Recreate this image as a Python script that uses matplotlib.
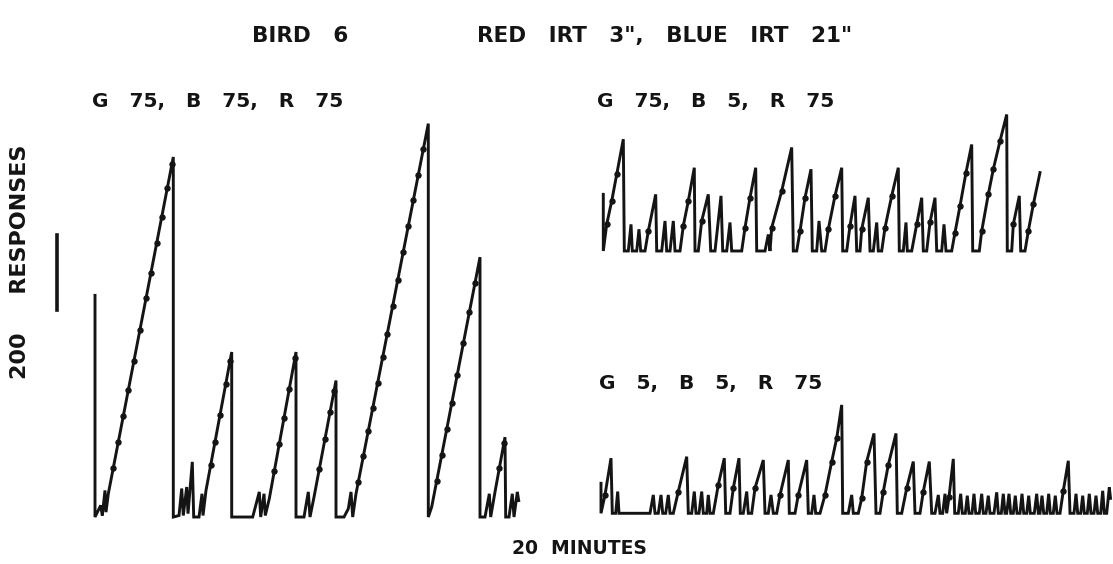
import numpy as np
import matplotlib
matplotlib.use("Agg")
import matplotlib.pyplot as plt

# cumulative records: (minutes, cumulative responses), pen resets drawn as drops
left_record = [(0, 591), (0, 0), (0.57, 31), (0.73, 4), (1.0, 71), (1.1, 13), (1.33, 62),
               (7.83, 960), (7.83, 0), (8.4, 4), (8.67, 76), (8.83, 4), (9.17, 80), (9.3, 9),
               (9.73, 147), (9.87, 0), (10.4, 0), (10.7, 62), (10.8, 4), (11.1, 71),
               (13.67, 440), (13.67, 0), (15.77, 0), (16.43, 67), (16.57, 0), (16.9, 62),
               (17.03, 4), (17.43, 49), (20.1, 440), (20.1, 0), (20.9, 0), (21.33, 67),
               (21.5, 0), (21.9, 53), (24.1, 364), (24.1, 0), (24.9, 0), (25.33, 22),
               (25.6, 67), (25.77, 0), (26.1, 62), (33.33, 1049), (33.33, 0), (33.67, 27),
               (38.5, 693), (38.5, 0), (39.0, 0), (39.43, 62), (39.57, 0), (40.0, 67),
               (41.0, 213), (41.07, 0), (41.4, 0), (41.73, 62), (41.9, 0), (42.23, 67),
               (42.37, 44)]
left_pips = [1.83, 2.33, 2.83, 3.33, 3.9, 4.5, 5.1, 5.6, 6.17, 6.67, 7.23, 7.7,
             11.57, 12.0, 12.5, 13.07, 13.5,
             17.93, 18.43, 18.9, 19.43, 20.0,
             22.43, 23.0, 23.5, 23.9,
             26.33, 26.83, 27.33, 27.77, 28.27, 28.77, 29.23, 29.77, 30.27, 30.83,
             31.33, 31.83, 32.33, 32.83,
             34.17, 34.67, 35.17, 35.67, 36.23, 36.83, 37.43, 38.0,
             40.43, 40.9]

upper_record = [(0.33, 151), (0.33, 0), (0.67, 71), (1.17, 133), (1.67, 204), (2.33, 298),
                (2.43, 0), (2.83, 0), (3.1, 71), (3.23, 0), (3.67, 0), (3.9, 58), (4.07, 0),
                (4.5, 0), (4.83, 53), (5.57, 151), (5.67, 0), (6.17, 0), (6.5, 80), (6.67, 0),
                (7.0, 0), (7.33, 80), (7.5, 0), (8.0, 0), (8.33, 67), (8.83, 133),
                (9.43, 222), (9.5, 0), (9.83, 0), (10.17, 80), (10.83, 151), (11.07, 0),
                (11.5, 0), (12.1, 147), (12.27, 0), (12.67, 0), (13.0, 76), (13.17, 0),
                (14.17, 0), (14.5, 62), (15.0, 142), (15.57, 222), (15.67, 0), (16.5, 0),
                (16.83, 44), (17.0, 0), (17.17, 62), (18.17, 160), (19.17, 276), (19.33, 0),
                (19.67, 0), (20.0, 53), (20.5, 142), (21.1, 218), (21.23, 0), (21.67, 0),
                (21.9, 80), (22.17, 0), (22.5, 0), (22.83, 58), (23.5, 147), (24.17, 222),
                (24.27, 0), (24.67, 0), (25.0, 67), (25.5, 147), (25.67, 0), (26.0, 0),
                (26.17, 58), (26.83, 142), (27.0, 0), (27.33, 0), (27.67, 76), (27.83, 0),
                (28.17, 0), (28.5, 62), (29.17, 147), (29.83, 222), (29.93, 0), (30.33, 0),
                (30.6, 76), (30.73, 0), (31.17, 0), (31.67, 71), (32.17, 142), (32.33, 0),
                (32.67, 0), (33.0, 76), (33.5, 142), (33.67, 0), (34.17, 0), (34.4, 71),
                (34.6, 0), (35.17, 0), (35.5, 49), (36.0, 120), (36.6, 209), (37.17, 284),
                (37.27, 0), (37.93, 0), (38.17, 53), (38.83, 151), (39.33, 218), (40.0, 293),
                (40.67, 364), (40.73, 0), (41.17, 0), (41.33, 71), (41.93, 147), (42.07, 0),
                (42.5, 0), (42.83, 53), (43.33, 124), (44.0, 209)]

lower_record = [(0.1, 80), (0.1, 0), (0.5, 49), (1.1, 147), (1.23, 0), (1.57, 0), (1.77, 58),
                (1.9, 0), (5.0, 0), (5.33, 49), (5.5, 0), (5.83, 0), (6.1, 49), (6.27, 0),
                (6.57, 0), (6.83, 49), (7.0, 0), (7.33, 0), (7.83, 58), (8.67, 151),
                (8.83, 0), (9.17, 0), (9.43, 58), (9.6, 0), (9.9, 0), (10.17, 58), (10.33, 0),
                (10.67, 0), (10.83, 49), (11.0, 0), (11.33, 0), (11.83, 76), (12.43, 147),
                (12.57, 0), (13.0, 0), (13.33, 67), (13.9, 147), (14.03, 0), (14.33, 0),
                (14.67, 58), (14.83, 0), (15.17, 0), (15.5, 67), (16.33, 142), (16.5, 0),
                (16.83, 0), (17.1, 49), (17.33, 0), (17.67, 0), (18.0, 49), (18.83, 142),
                (18.93, 0), (19.5, 0), (19.83, 49), (20.67, 142), (20.83, 0), (21.17, 0),
                (21.4, 49), (21.57, 0), (22.0, 0), (22.5, 49), (23.17, 138), (23.67, 200),
                (24.17, 289), (24.27, 0), (24.83, 0), (25.17, 49), (25.33, 0), (25.83, 0),
                (26.17, 40), (26.67, 138), (27.4, 213), (27.6, 0), (28.0, 0), (28.33, 58),
                (28.83, 129), (29.6, 213), (29.73, 0), (30.17, 0), (30.67, 67), (31.33, 138),
                (31.5, 0), (32.0, 0), (32.33, 58), (32.93, 138), (33.17, 0), (33.5, 0),
                (33.83, 49), (34.0, 0), (34.27, 0), (34.5, 52), (34.67, 0), (34.9, 43),
                (35.33, 145), (35.47, 0), (35.83, 0), (36.07, 52), (36.23, 0), (36.53, 0),
                (36.73, 47), (36.9, 0), (37.2, 0), (37.4, 52), (37.57, 0), (37.93, 0),
                (38.17, 52), (38.33, 0), (38.6, 0), (38.83, 47), (39.0, 0), (39.4, 0),
                (39.67, 56), (39.83, 0), (40.13, 0), (40.33, 52), (40.5, 0), (40.67, 0),
                (40.9, 52), (41.07, 0), (41.33, 0), (41.53, 47), (41.7, 0), (42.0, 0),
                (42.2, 52), (42.37, 0), (42.67, 0), (42.87, 47), (43.03, 0), (43.43, 0),
                (43.67, 52), (43.83, 0), (44.0, 0), (44.2, 47), (44.37, 0), (44.67, 0),
                (44.87, 52), (45.03, 0), (45.33, 0), (45.53, 47), (45.7, 0), (46.0, 0),
                (46.33, 60), (46.83, 140), (47.0, 0), (47.4, 0), (47.6, 52), (47.77, 0),
                (48.07, 0), (48.27, 47), (48.43, 0), (48.73, 0), (48.93, 52), (49.1, 0),
                (49.4, 0), (49.6, 47), (49.77, 0), (50.07, 0), (50.27, 60), (50.43, 0),
                (50.67, 0), (50.93, 69), (51.05, 40)]

bar_minutes = -3.8
bar_start = 552
bar_responses = 200

ink = "#141414"
fig = plt.figure(figsize=(11.13, 5.64), dpi=100)


def on_line(t, r, pt):
    # place an event pip on the rising stroke that passes through time pt
    for i in range(len(t) - 1):
        if t[i] <= pt <= t[i + 1] and t[i + 1] > t[i]:
            return r[i] + (r[i + 1] - r[i]) * (pt - t[i]) / (t[i + 1] - t[i])
    return np.nan


def draw_record(ax, record, pips=None):
    t, r = np.array(record, dtype=float).T
    ax.plot(t, r, color=ink, lw=2.1, solid_joinstyle="miter")
    if pips is None:
        # intermediate points on rising strokes
        keep = [i for i in range(1, len(r) - 1) if 0 < r[i] < r[i + 1] and r[i - 1] < r[i]]
        pt, pr = t[keep], r[keep]
    else:
        pt = np.array(pips)
        pr = np.array([on_line(t, r, p) for p in pips])
    ax.plot(pt, pr, "o", color=ink, ms=3.6)
    ax.axis("off")


ax1 = fig.add_axes([45 / 1113, 0.0700, 485 / 1113, 0.7447])
draw_record(ax1, left_record, left_pips)
ax1.plot([bar_minutes, bar_minutes], [bar_start, bar_start + bar_responses], color=ink, lw=2.6)
ax1.set_xlim(-5, 43.5)
ax1.set_ylim(-20, 1100)

ax2 = fig.add_axes([595 / 1113, 0.5417, 518 / 1113, 0.2793])
draw_record(ax2, upper_record)
ax2.set_xlim(-0.5, 51.3)
ax2.set_ylim(-20, 400)

ax3 = fig.add_axes([595 / 1113, 0.0766, 518 / 1113, 0.2793])
draw_record(ax3, lower_record)
ax3.set_xlim(-0.5, 51.3)
ax3.set_ylim(-20, 400)

title_font = dict(family="DejaVu Sans", fontweight="bold", fontsize=15.5, color=ink)
label_font = dict(family="DejaVu Sans", fontweight="bold", fontsize=14.5, color=ink)

fig.text(300 / 1113, 1 - 36 / 564, "BIRD   6", ha="center", va="center", **title_font)
fig.text(665 / 1113, 1 - 36 / 564, 'RED   IRT   3",   BLUE   IRT   21"', ha="center",
         va="center", **title_font)
fig.text(92 / 1113, 1 - 102 / 564, "G   75,   B   75,   R   75", ha="left", va="center",
         **label_font)
fig.text(597 / 1113, 1 - 102 / 564, "G   75,   B   5,   R   75", ha="left", va="center",
         **label_font)
fig.text(599 / 1113, 1 - 384 / 564, "G   5,   B   5,   R   75", ha="left", va="center",
         **label_font)
fig.text(579 / 1113, 1 - 549 / 564, "20  MINUTES", ha="center", va="center",
         family="DejaVu Sans", fontweight="bold", fontsize=13.5, color=ink)
fig.text(20 / 1113, 1 - 262 / 564, "200     RESPONSES", ha="center", va="center", rotation=90,
         family="DejaVu Sans", fontweight="bold", fontsize=16, color=ink)

fig.savefig("out.png", dpi=100, facecolor="white")
